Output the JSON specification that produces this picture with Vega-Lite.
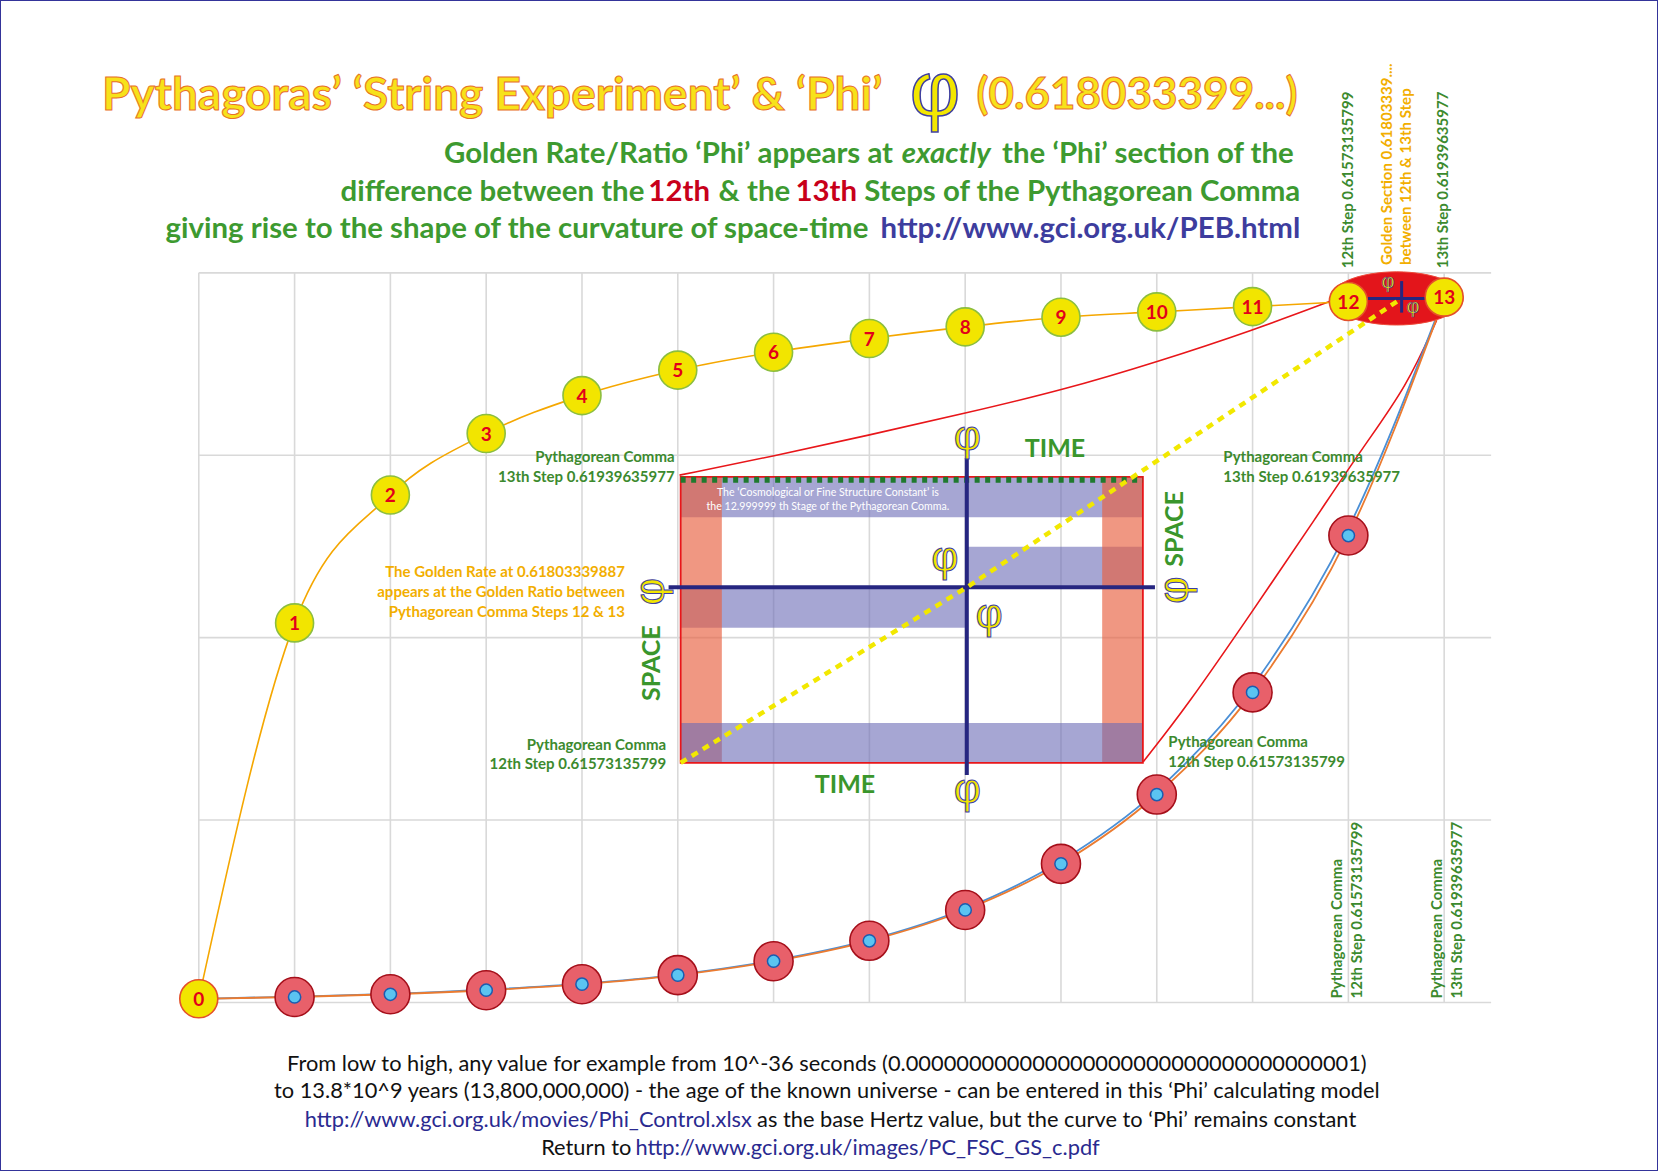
{
  "$schema": "https://vega.github.io/schema/vega-lite/v6.json",
  "width": 1658,
  "height": 1171,
  "autosize": {"type": "fit", "contains": "padding"},
  "padding": 0,
  "background": "#FFFFFF",
  "config": {"view": {"stroke": "#34349A", "strokeWidth": 2}},
  "datasets": {
    "top": [
      {"x": 0, "y": 0.02}, {"x": 1, "y": 2.081}, {"x": 2, "y": 2.782}, {"x": 3, "y": 3.119},
      {"x": 4, "y": 3.327}, {"x": 5, "y": 3.467}, {"x": 6, "y": 3.565}, {"x": 7, "y": 3.64},
      {"x": 8, "y": 3.704}, {"x": 9, "y": 3.757}, {"x": 10, "y": 3.786}, {"x": 11, "y": 3.815},
      {"x": 12, "y": 3.843}, {"x": 13, "y": 3.867}
    ],
    "bottom": [
      {"x": 0, "y": 0.02}, {"x": 1, "y": 0.03}, {"x": 2, "y": 0.045}, {"x": 3, "y": 0.067},
      {"x": 4, "y": 0.1}, {"x": 5, "y": 0.15}, {"x": 6, "y": 0.226}, {"x": 7, "y": 0.338},
      {"x": 8, "y": 0.507}, {"x": 9, "y": 0.76}, {"x": 10, "y": 1.14}, {"x": 11, "y": 1.7},
      {"x": 12, "y": 2.56}, {"x": 13, "y": 3.86}
    ],
    "bottomBlue": [
      {"x": 0, "y": 0.02}, {"x": 1, "y": 0.032}, {"x": 2, "y": 0.047}, {"x": 3, "y": 0.07},
      {"x": 4, "y": 0.103}, {"x": 5, "y": 0.153}, {"x": 6, "y": 0.23}, {"x": 7, "y": 0.343},
      {"x": 8, "y": 0.515}, {"x": 9, "y": 0.775}, {"x": 10, "y": 1.16}, {"x": 11, "y": 1.735},
      {"x": 12, "y": 2.6}, {"x": 13, "y": 3.87}
    ]
  },
  "encoding": {
    "x": {"field": "x", "type": "quantitative", "scale": {"domain": [-2.075, 15.232], "nice": false, "zero": false}, "axis": null},
    "y": {"field": "y", "type": "quantitative", "scale": {"domain": [-0.924, 5.496], "nice": false, "zero": false}, "axis": null}
  },
  "layer": [
    {
      "data": {"values": [
        {"x": 0, "y": 0, "y2": 4}, {"x": 1, "y": 0, "y2": 4}, {"x": 2, "y": 0, "y2": 4}, {"x": 3, "y": 0, "y2": 4},
        {"x": 4, "y": 0, "y2": 4}, {"x": 5, "y": 0, "y2": 4}, {"x": 6, "y": 0, "y2": 4}, {"x": 7, "y": 0, "y2": 4},
        {"x": 8, "y": 0, "y2": 4}, {"x": 9, "y": 0, "y2": 4}, {"x": 10, "y": 0, "y2": 4}, {"x": 11, "y": 0, "y2": 4},
        {"x": 12, "y": 0, "y2": 4}, {"x": 13, "y": 0, "y2": 4}
      ]},
      "mark": {"type": "rule", "color": "#D9D9D9", "strokeWidth": 1.6},
      "encoding": {"y2": {"field": "y2"}}
    },
    {
      "data": {"values": [
        {"x": 0, "x2": 13.49, "y": 0}, {"x": 0, "x2": 13.49, "y": 1}, {"x": 0, "x2": 13.49, "y": 2},
        {"x": 0, "x2": 13.49, "y": 3}, {"x": 0, "x2": 13.49, "y": 4}
      ]},
      "mark": {"type": "rule", "color": "#D9D9D9", "strokeWidth": 1.6},
      "encoding": {"x2": {"field": "x2"}}
    },
    {
      "data": {"values": [
        {"kind": "time", "x": 5.03, "x2": 9.855, "y": 2.66, "y2": 2.882},
        {"kind": "time", "x": 5.03, "x2": 8.017, "y": 2.054, "y2": 2.272},
        {"kind": "time", "x": 8.017, "x2": 9.855, "y": 2.279, "y2": 2.498},
        {"kind": "space", "x": 5.03, "x2": 5.46, "y": 1.314, "y2": 2.882},
        {"kind": "space", "x": 9.43, "x2": 9.855, "y": 1.314, "y2": 2.882},
        {"kind": "time", "x": 5.03, "x2": 9.855, "y": 1.314, "y2": 1.532}
      ]},
      "mark": {"type": "rect", "strokeWidth": 0},
      "encoding": {
        "x2": {"field": "x2"},
        "y2": {"field": "y2"},
        "color": {"field": "kind", "type": "nominal", "scale": {"domain": ["time", "space"], "range": ["#6B6BB5", "#E8603F"]}, "legend": null},
        "opacity": {"field": "kind", "type": "nominal", "scale": {"domain": ["time", "space"], "range": [0.6, 0.65]}, "legend": null}
      }
    },
    {
      "data": {"values": [{"x": 5.03, "x2": 9.855, "y": 1.314, "y2": 2.882}]},
      "mark": {"type": "rect", "fillOpacity": 0, "stroke": "#E8161A", "strokeWidth": 1.8},
      "encoding": {"x2": {"field": "x2"}, "y2": {"field": "y2"}}
    },
    {
      "data": {"values": [{"x": 5.03, "y": 2.866}, {"x": 9.855, "y": 2.866}]},
      "mark": {"type": "line", "color": "#1F7A2E", "strokeWidth": 6, "strokeDash": [5, 5.5]},
      "encoding": {}
    },
    {
      "data": {"values": [{"x": 4.904, "x2": 9.981, "y": 2.276}]},
      "mark": {"type": "rule", "color": "#262680", "strokeWidth": 4},
      "encoding": {"x2": {"field": "x2"}}
    },
    {
      "data": {"values": [{"x": 8.017, "y": 1.247, "y2": 2.985}]},
      "mark": {"type": "rule", "color": "#262680", "strokeWidth": 4},
      "encoding": {"y2": {"field": "y2"}}
    },
    {
      "data": {"values": [
        {"id": "a", "x": 5.018, "y": 2.891}, {"id": "a", "x": 6.005, "y": 2.996}, {"id": "a", "x": 7.001, "y": 3.111},
        {"id": "a", "x": 7.997, "y": 3.23}, {"id": "a", "x": 9.016, "y": 3.357}, {"id": "a", "x": 10.011, "y": 3.513},
        {"id": "a", "x": 11.007, "y": 3.686}, {"id": "a", "x": 11.845, "y": 3.851},
        {"id": "b", "x": 9.859, "y": 1.32}, {"id": "b", "x": 10.312, "y": 1.621}, {"id": "b", "x": 11.007, "y": 2.151},
        {"id": "b", "x": 11.669, "y": 2.663}, {"id": "b", "x": 12.155, "y": 3.047}, {"id": "b", "x": 12.609, "y": 3.376},
        {"id": "b", "x": 12.922, "y": 3.741}
      ]},
      "mark": {"type": "line", "color": "#E8161A", "strokeWidth": 1.6, "interpolate": "basis"},
      "encoding": {"detail": {"field": "id", "type": "nominal"}}
    },
    {
      "data": {"name": "top"},
      "mark": {"type": "line", "color": "#F5A700", "strokeWidth": 1.6, "interpolate": "monotone"},
      "encoding": {}
    },
    {
      "data": {"name": "bottomBlue"},
      "mark": {"type": "line", "color": "#4A8FD6", "strokeWidth": 1.8, "interpolate": "monotone"},
      "encoding": {}
    },
    {
      "data": {"name": "bottom"},
      "mark": {"type": "line", "color": "#EB7B30", "strokeWidth": 1.8, "interpolate": "monotone"},
      "encoding": {}
    },
    {
      "data": {"values": [{"x": 12.504, "y": 3.86}]},
      "mark": {"type": "point", "shape": "M-1,0C-1,-0.2209,-0.5523,-0.4,0,-0.4C0.5523,-0.4,1,-0.2209,1,0C1,0.2209,0.5523,0.4,0,0.4C-0.5523,0.4,-1,0.2209,-1,0Z", "size": 17689, "filled": true, "fill": "#E3151B", "stroke": "#EE4A3A", "strokeWidth": 1, "opacity": 1},
      "encoding": {}
    },
    {
      "data": {"values": [{"x": 12.2, "x2": 12.818, "y": 3.86}]},
      "mark": {"type": "rule", "color": "#262680", "strokeWidth": 3},
      "encoding": {"x2": {"field": "x2"}}
    },
    {
      "data": {"values": [{"x": 12.556, "y": 3.782, "y2": 3.955}]},
      "mark": {"type": "rule", "color": "#262680", "strokeWidth": 3},
      "encoding": {"y2": {"field": "y2"}}
    },
    {
      "data": {"values": [{"x": 5.03, "y": 1.314}, {"x": 8.017, "y": 2.276}, {"x": 12.556, "y": 3.86}]},
      "mark": {"type": "line", "color": "#F2E800", "strokeWidth": 4.5, "strokeDash": [7, 6]},
      "encoding": {}
    },
    {
      "data": {"name": "bottom"},
      "transform": [{"filter": "datum.x >= 1 && datum.x <= 12"}],
      "mark": {"type": "point", "shape": "circle", "size": 1520, "filled": true, "fill": "#E8606A", "stroke": "#A50F1A", "strokeWidth": 1.6, "opacity": 1},
      "encoding": {}
    },
    {
      "data": {"name": "bottom"},
      "transform": [{"filter": "datum.x >= 1 && datum.x <= 12"}],
      "mark": {"type": "point", "shape": "circle", "size": 150, "filled": true, "fill": "#5BC4F1", "stroke": "#1C5CB0", "strokeWidth": 1.5, "opacity": 1},
      "encoding": {}
    },
    {
      "data": {"name": "top"},
      "mark": {"type": "point", "shape": "circle", "size": 1444, "filled": true, "fill": "#F2E500", "strokeWidth": 1.6, "opacity": 1},
      "encoding": {"stroke": {"condition": {"test": "datum.x == 0 || datum.x >= 12", "value": "#E4502A"}, "value": "#8CBE3F"}}
    },
    {
      "data": {"name": "top"},
      "mark": {"type": "text", "font": "Lato", "fontWeight": "bold", "fontSize": 19, "fill": "#E2001A", "align": "center", "baseline": "middle", "dy": 1},
      "encoding": {"text": {"field": "x", "type": "quantitative", "format": "d"}}
    },
    {
      "data": {"values": [{"t": "Pythagoras’ ‘String Experiment’ & ‘Phi’", "x": -1.01, "y": 4.97}]},
      "mark": {"type": "text", "font": "Lato", "fontWeight": "bold", "fontSize": 46, "fill": "#F7E21A", "stroke": "#E8702A", "strokeWidth": 1, "align": "left", "baseline": "middle"},
      "encoding": {"text": {"field": "t"}}
    },
    {
      "data": {"values": [{"t": "(0.618033399...)", "x": 11.47, "y": 4.97}]},
      "mark": {"type": "text", "font": "Lato", "fontWeight": "bold", "fontSize": 44, "fill": "#F7E21A", "stroke": "#E8702A", "strokeWidth": 1, "align": "right", "baseline": "middle"},
      "encoding": {"text": {"field": "t"}}
    },
    {
      "data": {"values": [{"t": "φ", "x": 7.685, "y": 4.985}]},
      "mark": {"type": "text", "font": "Liberation Sans", "fontSize": 78, "fill": "#F2E600", "stroke": "#3F3FA0", "strokeWidth": 1.5, "align": "center", "baseline": "middle"},
      "encoding": {"text": {"field": "t"}}
    },
    {
      "data": {"values": [
        {"t": "Golden Rate/Ratio ‘Phi’ appears at", "x": 7.247, "y": 4.649},
        {"t": "the ‘Phi’ section of the", "x": 11.43, "y": 4.649},
        {"t": "difference between the", "x": 4.651, "y": 4.441},
        {"t": "& the", "x": 6.174, "y": 4.441},
        {"t": "Steps of the Pythagorean Comma", "x": 11.497, "y": 4.441},
        {"t": "giving rise to the shape of the curvature of space-time", "x": 6.99, "y": 4.238}
      ]},
      "mark": {"type": "text", "font": "Lato", "fontWeight": "bold", "fontSize": 29.4, "fill": "#3D9A30", "align": "right", "baseline": "middle"},
      "encoding": {"text": {"field": "t"}}
    },
    {
      "data": {"values": [{"t": "exactly", "x": 8.267, "y": 4.649}]},
      "mark": {"type": "text", "font": "Lato", "fontWeight": "bold", "fontStyle": "italic", "fontSize": 29.4, "fill": "#3D9A30", "align": "right", "baseline": "middle"},
      "encoding": {"text": {"field": "t"}}
    },
    {
      "data": {"values": [{"t": "12th", "x": 5.336, "y": 4.441}, {"t": "13th", "x": 6.871, "y": 4.441}]},
      "mark": {"type": "text", "font": "Lato", "fontWeight": "bold", "fontSize": 29.4, "fill": "#C8001A", "align": "right", "baseline": "middle"},
      "encoding": {"text": {"field": "t"}}
    },
    {
      "data": {"values": [{"t": "http://www.gci.org.uk/PEB.html", "x": 11.497, "y": 4.238}]},
      "mark": {"type": "text", "font": "Lato", "fontWeight": "bold", "fontSize": 29.4, "fill": "#3D3D9E", "align": "right", "baseline": "middle"},
      "encoding": {"text": {"field": "t"}}
    },
    {
      "data": {"values": [
        {"t": "From low to high, any value for example from 10^-36 seconds (0.000000000000000000000000000000000001)", "x": 6.556, "y": -0.336},
        {"t": "to 13.8*10^9 years (13,800,000,000) - the age of the known universe - can be entered in this ‘Phi’ calculating model", "x": 6.556, "y": -0.487}
      ]},
      "mark": {"type": "text", "font": "Lato", "fontSize": 21.8, "fill": "#111111", "align": "center", "baseline": "middle"},
      "encoding": {"text": {"field": "t"}}
    },
    {
      "data": {"values": [{"t": "as the base Hertz value, but the curve to ‘Phi’ remains constant", "x": 5.828, "y": -0.644}]},
      "mark": {"type": "text", "font": "Lato", "fontSize": 21.8, "fill": "#111111", "align": "left", "baseline": "middle"},
      "encoding": {"text": {"field": "t"}}
    },
    {
      "data": {"values": [{"t": "Return to", "x": 4.515, "y": -0.8}]},
      "mark": {"type": "text", "font": "Lato", "fontSize": 21.8, "fill": "#111111", "align": "right", "baseline": "middle"},
      "encoding": {"text": {"field": "t"}}
    },
    {
      "data": {"values": [{"t": "http://www.gci.org.uk/movies/Phi_Control.xlsx", "x": 5.773, "y": -0.644}]},
      "mark": {"type": "text", "font": "Lato", "fontSize": 21.8, "fill": "#2A2A90", "align": "right", "baseline": "middle"},
      "encoding": {"text": {"field": "t"}}
    },
    {
      "data": {"values": [{"t": "http://www.gci.org.uk/images/PC_FSC_GS_c.pdf", "x": 4.558, "y": -0.8}]},
      "mark": {"type": "text", "font": "Lato", "fontSize": 21.8, "fill": "#2A2A90", "align": "left", "baseline": "middle"},
      "encoding": {"text": {"field": "t"}}
    },
    {
      "data": {"values": [
        {"t": "Pythagorean Comma", "x": 4.967, "y": 2.991},
        {"t": "13th Step 0.61939635977", "x": 4.967, "y": 2.881},
        {"t": "Pythagorean Comma", "x": 4.879, "y": 1.414},
        {"t": "12th Step 0.61573135799", "x": 4.879, "y": 1.31}
      ]},
      "mark": {"type": "text", "font": "Lato", "fontWeight": "bold", "fontSize": 15, "fill": "#3C8A2E", "align": "right", "baseline": "middle"},
      "encoding": {"text": {"field": "t"}}
    },
    {
      "data": {"values": [
        {"t": "Pythagorean Comma", "x": 10.695, "y": 2.991},
        {"t": "13th Step 0.61939635977", "x": 10.695, "y": 2.881},
        {"t": "Pythagorean Comma", "x": 10.121, "y": 1.426},
        {"t": "12th Step 0.61573135799", "x": 10.121, "y": 1.316}
      ]},
      "mark": {"type": "text", "font": "Lato", "fontWeight": "bold", "fontSize": 15, "fill": "#3C8A2E", "align": "left", "baseline": "middle"},
      "encoding": {"text": {"field": "t"}}
    },
    {
      "data": {"values": [
        {"t": "The Golden Rate at 0.61803339887", "x": 4.448, "y": 2.359},
        {"t": "appears at the Golden Ratio between", "x": 4.448, "y": 2.249},
        {"t": "Pythagorean Comma Steps 12 & 13", "x": 4.448, "y": 2.139}
      ]},
      "mark": {"type": "text", "font": "Lato", "fontWeight": "bold", "fontSize": 15, "fill": "#F2AE00", "align": "right", "baseline": "middle"},
      "encoding": {"text": {"field": "t"}}
    },
    {
      "data": {"values": [
        {"t": "The ‘Cosmological or Fine Structure Constant’ is", "x": 6.567, "y": 2.791},
        {"t": "the 12.999999 th Stage of the Pythagorean Comma.", "x": 6.567, "y": 2.714}
      ]},
      "mark": {"type": "text", "font": "Lato", "fontSize": 10.6, "fill": "#FFFFFF", "align": "center", "baseline": "middle"},
      "encoding": {"text": {"field": "t"}}
    },
    {
      "data": {"values": [{"t": "TIME", "x": 8.937, "y": 3.036}, {"t": "TIME", "x": 6.745, "y": 1.19}]},
      "mark": {"type": "text", "font": "Lato", "fontWeight": "bold", "fontSize": 25, "fill": "#3A962C", "align": "center", "baseline": "middle"},
      "encoding": {"text": {"field": "t"}}
    },
    {
      "data": {"values": [{"t": "SPACE", "x": 4.735, "y": 1.86}, {"t": "SPACE", "x": 10.19, "y": 2.596}]},
      "mark": {"type": "text", "font": "Lato", "fontWeight": "bold", "fontSize": 25, "fill": "#3A962C", "align": "center", "baseline": "middle", "angle": 270},
      "encoding": {"text": {"field": "t"}}
    },
    {
      "data": {"values": [
        {"t": "12th Step 0.61573135799", "x": 11.995, "y": 4.025},
        {"t": "13th Step 0.61939635977", "x": 12.99, "y": 4.025},
        {"t": "Pythagorean Comma", "x": 11.878, "y": 0.022},
        {"t": "12th Step 0.61573135799", "x": 12.087, "y": 0.022},
        {"t": "Pythagorean Comma", "x": 12.922, "y": 0.022},
        {"t": "13th Step 0.61939635977", "x": 13.13, "y": 0.022}
      ]},
      "mark": {"type": "text", "font": "Lato", "fontWeight": "bold", "fontSize": 15, "fill": "#3C8A2E", "align": "left", "baseline": "middle", "angle": 270},
      "encoding": {"text": {"field": "t"}}
    },
    {
      "data": {"values": [
        {"t": "Golden Section 0.61803339....", "x": 12.4, "y": 4.043},
        {"t": "between 12th & 13th Step", "x": 12.6, "y": 4.043}
      ]},
      "mark": {"type": "text", "font": "Lato", "fontWeight": "bold", "fontSize": 15, "fill": "#F2AE00", "align": "left", "baseline": "middle", "angle": 270},
      "encoding": {"text": {"field": "t"}}
    },
    {
      "data": {"values": [
        {"t": "φ", "x": 8.024, "y": 3.101},
        {"t": "φ", "x": 8.024, "y": 1.164},
        {"t": "φ", "x": 7.789, "y": 2.435},
        {"t": "φ", "x": 8.249, "y": 2.124}
      ]},
      "mark": {"type": "text", "font": "Liberation Sans", "fontSize": 42, "fill": "#F2E600", "stroke": "#3F3FA0", "strokeWidth": 1, "align": "center", "baseline": "middle"},
      "encoding": {"text": {"field": "t"}}
    },
    {
      "data": {"values": [{"t": "φ", "x": 4.725, "y": 2.252}, {"t": "φ", "x": 10.186, "y": 2.261}]},
      "mark": {"type": "text", "font": "Liberation Sans", "fontSize": 42, "fill": "#F2E600", "stroke": "#3F3FA0", "strokeWidth": 1, "align": "center", "baseline": "middle", "angle": 270},
      "encoding": {"text": {"field": "t"}}
    },
    {
      "data": {"values": [{"t": "φ", "x": 12.414, "y": 3.952}, {"t": "φ", "x": 12.675, "y": 3.814}]},
      "mark": {"type": "text", "font": "Liberation Sans", "fontSize": 20, "fill": "#F2E600", "stroke": "#3F3FA0", "strokeWidth": 0.6, "align": "center", "baseline": "middle"},
      "encoding": {"text": {"field": "t"}}
    }
  ]
}
